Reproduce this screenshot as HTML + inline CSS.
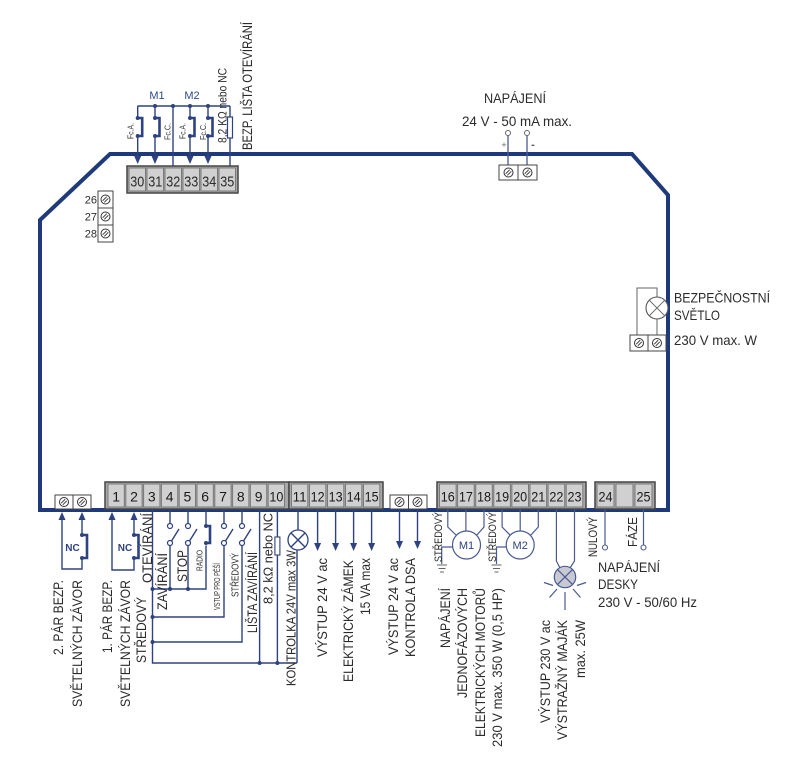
<!DOCTYPE html>
<html><head><meta charset="utf-8">
<style>
html,body{margin:0;padding:0;background:#fff;}
svg{display:block;}
text{font-family:"Liberation Sans",sans-serif;fill:#2b2b2b;}
.w{stroke:#2e4280;stroke-width:1.4;fill:none;}
.wl{stroke:#4a5a90;stroke-width:1.2;fill:none;}
.g{stroke:#666;stroke-width:1;fill:none;}
.dot{fill:#2e4280;}
.cell{fill:#d0d0d0;stroke:#7a7a7a;stroke-width:1;}
.blk{fill:#a8a8a8;stroke:#454545;stroke-width:1.5;}
.scr{fill:#fff;stroke:#444;stroke-width:1;}
.num{font-size:14px;fill:#1a1a1a;text-anchor:middle;}
.arr{fill:#2e4280;}
</style></head><body>
<svg width="800" height="774" viewBox="0 0 800 774" xmlns="http://www.w3.org/2000/svg">
<defs>
<g id="screw"><circle cx="0" cy="0" r="4.5" fill="#fff" stroke="#333" stroke-width="1"/><line x1="-2.8" y1="1.2" x2="1.2" y2="-2.8" stroke="#333" stroke-width="0.9"/><line x1="-1.2" y1="2.8" x2="2.8" y2="-1.2" stroke="#333" stroke-width="0.9"/></g>
</defs>

<!-- board outline -->
<path d="M110,154 L632,154 L668,195 L668,510 L40,510 L40,220 Z" fill="none" stroke="#1f3a7a" stroke-width="4"/>

<!-- ===== TOP LEFT: terminals 30-35 wiring ===== -->
<text x="157" y="99" font-size="11" text-anchor="middle" style="fill:#2e4a8a">M1</text>
<text x="192" y="99" font-size="11" text-anchor="middle" style="fill:#2e4a8a">M2</text>
<path class="w" d="M137.7,106 H230"/>
<circle class="dot" cx="155" cy="106" r="2"/>
<circle class="dot" cx="173" cy="106" r="2"/>
<circle class="dot" cx="190" cy="106" r="2"/>
<circle class="dot" cx="208" cy="106" r="2"/>
<g>
<path class="w" d="M137.7,106 V118 M137.7,136 V157"/>
<circle class="dot" cx="137.7" cy="118" r="2"/><circle class="dot" cx="137.7" cy="136" r="2"/>
<path d="M137.7,118 h4.5 v18 h-4.5" fill="none" stroke="#2e4280" stroke-width="2.6"/>
<polygon class="arr" points="134.2,156 141.2,156 137.7,164"/>
</g>
<g>
<path class="w" d="M155,106 V118 M155,136 V157"/>
<circle class="dot" cx="155" cy="118" r="2"/><circle class="dot" cx="155" cy="136" r="2"/>
<path d="M155,118 h4.5 v18 h-4.5" fill="none" stroke="#2e4280" stroke-width="2.6"/>
<polygon class="arr" points="151.5,156 158.5,156 155,164"/>
</g>
<path class="w" d="M173,106 V167"/>
<g>
<path class="w" d="M190,106 V118 M190,136 V157"/>
<circle class="dot" cx="190" cy="118" r="2"/><circle class="dot" cx="190" cy="136" r="2"/>
<path d="M190,118 h4.5 v18 h-4.5" fill="none" stroke="#2e4280" stroke-width="2.6"/>
<polygon class="arr" points="186.5,156 193.5,156 190,164"/>
</g>
<g>
<path class="w" d="M208,106 V118 M208,136 V157"/>
<circle class="dot" cx="208" cy="118" r="2"/><circle class="dot" cx="208" cy="136" r="2"/>
<path d="M208,118 h4.5 v18 h-4.5" fill="none" stroke="#2e4280" stroke-width="2.6"/>
<polygon class="arr" points="204.5,156 211.5,156 208,164"/>
</g>
<path class="w" d="M230,106 V117 M230,138 V167"/>
<rect x="227.5" y="117" width="5" height="21" fill="#fff" stroke="#2e4280" stroke-width="1.2"/>
<text transform="translate(133.5,139) rotate(-90)" font-size="8" textLength="16" lengthAdjust="spacingAndGlyphs">Fc.A.</text>
<text transform="translate(170.5,140) rotate(-90)" font-size="8" textLength="17" lengthAdjust="spacingAndGlyphs">Fc.C.</text>
<text transform="translate(185.5,139) rotate(-90)" font-size="8" textLength="16" lengthAdjust="spacingAndGlyphs">Fc.A.</text>
<text transform="translate(206,140) rotate(-90)" font-size="8" textLength="17" lengthAdjust="spacingAndGlyphs">Fc.C.</text>
<text transform="translate(226.5,143) rotate(-90)" font-size="12" textLength="75" lengthAdjust="spacingAndGlyphs">8,2 KΩ nebo NC</text>
<text transform="translate(252,150) rotate(-90)" font-size="14" textLength="128" lengthAdjust="spacingAndGlyphs">BEZP. LIŠTA OTEVÍRÁNÍ</text>

<!-- top block 30-35 -->
<rect class="blk" x="127" y="166" width="111" height="27"/>
<rect class="cell" x="129" y="168" width="16.5" height="23"/>
<rect class="cell" x="147" y="168" width="16.5" height="23"/>
<rect class="cell" x="165" y="168" width="16.5" height="23"/>
<rect class="cell" x="183" y="168" width="16.5" height="23"/>
<rect class="cell" x="201" y="168" width="16.5" height="23"/>
<rect class="cell" x="219" y="168" width="16.5" height="23"/>
<g font-size="15" text-anchor="middle" style="fill:#1a1a1a">
<text x="137.3" y="186.5" textLength="14" lengthAdjust="spacingAndGlyphs">30</text>
<text x="155.3" y="186.5" textLength="14" lengthAdjust="spacingAndGlyphs">31</text>
<text x="173.3" y="186.5" textLength="14" lengthAdjust="spacingAndGlyphs">32</text>
<text x="191.3" y="186.5" textLength="14" lengthAdjust="spacingAndGlyphs">33</text>
<text x="209.3" y="186.5" textLength="14" lengthAdjust="spacingAndGlyphs">34</text>
<text x="227.3" y="186.5" textLength="14" lengthAdjust="spacingAndGlyphs">35</text>
</g>

<!-- left terminals 26-28 -->
<rect class="scr" x="98" y="191" width="15" height="17"/>
<rect class="scr" x="98" y="208" width="15" height="17"/>
<rect class="scr" x="98" y="225" width="15" height="17"/>
<use href="#screw" x="105.5" y="199.5"/>
<use href="#screw" x="105.5" y="216.5"/>
<use href="#screw" x="105.5" y="233.5"/>
<g font-size="11" text-anchor="end">
<text x="97" y="203.5">26</text>
<text x="97" y="220.5">27</text>
<text x="97" y="237.5">28</text>
</g>

<!-- ===== TOP POWER ===== -->
<text x="484" y="103" font-size="14" textLength="62" lengthAdjust="spacingAndGlyphs">NAPÁJENÍ</text>
<text x="462" y="126" font-size="14" textLength="110" lengthAdjust="spacingAndGlyphs">24 V - 50 mA max.</text>
<path d="M508,135.5 V172 M527,135.5 V172" stroke="#4a5a90" stroke-width="1.3" fill="none"/>
<circle cx="508" cy="133" r="2.5" fill="#fff" stroke="#666" stroke-width="1"/>
<circle cx="527" cy="133" r="2.5" fill="#fff" stroke="#666" stroke-width="1"/>
<text x="504" y="148" font-size="9" text-anchor="middle" style="fill:#666">+</text>
<text x="533" y="148" font-size="11" font-weight="bold" text-anchor="middle" style="fill:#555">-</text>
<rect class="scr" x="499" y="165" width="19" height="15"/>
<rect class="scr" x="518" y="165" width="19" height="15"/>
<use href="#screw" x="508.5" y="172.5"/>
<use href="#screw" x="527.5" y="172.5"/>

<!-- ===== RIGHT SAFETY LIGHT ===== -->
<path class="g" d="M637,335 V288 H657 V297 M657,319 V335"/>
<circle cx="657" cy="308" r="11" fill="#fff" stroke="#555" stroke-width="1.1"/>
<path class="g" d="M649.2,300.2 L664.8,315.8 M664.8,300.2 L649.2,315.8"/>
<rect class="scr" x="630" y="335" width="18" height="16"/>
<rect class="scr" x="648" y="335" width="18" height="16"/>
<use href="#screw" x="639" y="343"/>
<use href="#screw" x="657" y="343"/>
<text x="674" y="302.7" font-size="14" textLength="96" lengthAdjust="spacingAndGlyphs">BEZPEČNOSTNÍ</text>
<text x="674" y="320" font-size="14" textLength="46" lengthAdjust="spacingAndGlyphs">SVĚTLO</text>
<text x="674" y="345" font-size="14" textLength="83" lengthAdjust="spacingAndGlyphs">230 V max. W</text>

<!-- ===== BOTTOM LEFT NC boxes ===== -->
<path class="w" d="M62,519 V569 H82 V558 M82,519 V535"/>
<circle class="dot" cx="82" cy="535" r="2"/><circle class="dot" cx="82" cy="558" r="2"/>
<path d="M82,535 h5 v23 h-5" fill="none" stroke="#2e4280" stroke-width="2.6"/>
<polygon class="arr" points="58.5,520 65.5,520 62,512"/>
<polygon class="arr" points="78.5,520 85.5,520 82,512"/>
<text x="72.5" y="551" font-size="10" font-weight="bold" text-anchor="middle" style="fill:#2e4280">NC</text>

<path class="w" d="M112,519 V570 H134 V558 M134,519 V535"/>
<circle class="dot" cx="134" cy="535" r="2"/><circle class="dot" cx="134" cy="558" r="2"/>
<path d="M134,535 h4.5 v23 h-4.5" fill="none" stroke="#2e4280" stroke-width="2.6"/>
<polygon class="arr" points="108.5,520 115.5,520 112,512"/>
<polygon class="arr" points="130.5,520 137.5,520 134,512"/>
<text x="125" y="551" font-size="10" font-weight="bold" text-anchor="middle" style="fill:#2e4280">NC</text>

<!-- ===== terminals 3-10 wiring ===== -->
<path class="w" d="M152.5,509 V663 H297"/>
<path class="w" d="M152.5,589 H206 V545.5"/>
<circle class="dot" cx="152.5" cy="589" r="2"/>
<circle class="dot" cx="170" cy="589" r="2"/>
<circle class="dot" cx="188" cy="589" r="2"/>
<path class="w" d="M170,509 V523.5 M170,545.5 V589 M171.5,541 L179,529"/>
<circle cx="170" cy="526" r="2.5" fill="#fff" stroke="#2e4280" stroke-width="1.2"/>
<circle cx="170" cy="543" r="2.5" fill="#fff" stroke="#2e4280" stroke-width="1.2"/>
<path class="w" d="M188,509 V523.5 M188,545.5 V589 M189.5,541 L197,529"/>
<circle cx="188" cy="526" r="2.5" fill="#fff" stroke="#2e4280" stroke-width="1.2"/>
<circle cx="188" cy="543" r="2.5" fill="#fff" stroke="#2e4280" stroke-width="1.2"/>
<path class="w" d="M206,509 V526"/>
<circle class="dot" cx="206" cy="526" r="2"/><circle class="dot" cx="206" cy="543" r="2"/>
<path d="M206,526 h4 v17 h-4" fill="none" stroke="#2e4280" stroke-width="2.6"/>
<path class="w" d="M224,509 V523.5 M224,545.5 V617 H152.5 M225.5,541 L233,529"/>
<circle cx="224" cy="526" r="2.5" fill="#fff" stroke="#2e4280" stroke-width="1.2"/>
<circle cx="224" cy="543" r="2.5" fill="#fff" stroke="#2e4280" stroke-width="1.2"/>
<circle class="dot" cx="152.5" cy="617" r="2"/>
<path class="w" d="M242,509 V523.5 M242,545.5 V642 H152.5 M243.5,541 L251,529"/>
<circle cx="242" cy="526" r="2.5" fill="#fff" stroke="#2e4280" stroke-width="1.2"/>
<circle cx="242" cy="543" r="2.5" fill="#fff" stroke="#2e4280" stroke-width="1.2"/>
<circle class="dot" cx="152.5" cy="642" r="2"/>
<path class="w" d="M259.6,509 V663"/>
<circle class="dot" cx="259.6" cy="663" r="2"/>
<path class="w" d="M277.4,509 V537 M277.4,555 V663"/>
<rect x="274.9" y="537" width="5" height="18" fill="#fff" stroke="#2e4280" stroke-width="1.1"/>
<circle class="dot" cx="277.4" cy="663" r="2"/>
<path class="w" d="M298,509 V530 M297,550 V663"/>
<circle cx="298" cy="540" r="10" fill="#fff" stroke="#2e4280" stroke-width="1.3"/>
<path class="w" d="M290.9,532.9 L305.1,547.1 M305.1,532.9 L290.9,547.1"/>
<path class="w" d="M317.6,509 V543 M335.6,509 V543 M353.6,509 V543 M371.6,509 V543"/>
<polygon class="arr" points="314.1,543 321.1,543 317.6,551"/>
<polygon class="arr" points="332.1,543 339.1,543 335.6,551"/>
<polygon class="arr" points="350.1,543 357.1,543 353.6,551"/>
<polygon class="arr" points="368.1,543 375.1,543 371.6,551"/>
<path class="w" d="M399.5,509 V541 M417.5,509 V541"/>
<polygon class="arr" points="396,541 403,541 399.5,549"/>
<polygon class="arr" points="414,541 421,541 417.5,549"/>

<!-- motors -->
<path class="wl" d="M447.8,509 V527 L457,536 M465.9,509 V531 M484,509 V527 L476,536"/>
<circle cx="466.5" cy="545" r="14" fill="#fff" stroke="#4a5a90" stroke-width="1.2"/>
<text x="466.5" y="549" font-size="11" text-anchor="middle" style="fill:#2e4280">M1</text>
<path class="wl" d="M452.5,547 H441.7 V564"/>
<path class="g" d="M437,565 H447 M438.5,568.5 H445.5 M440,572 H444" stroke="#999"/>
<path class="wl" d="M502.1,509 V527 L511,536 M520.2,509 V531 M538.3,509 V527 L530,536"/>
<circle cx="520.2" cy="545" r="14" fill="#fff" stroke="#4a5a90" stroke-width="1.2"/>
<text x="520.2" y="549" font-size="11" text-anchor="middle" style="fill:#2e4280">M2</text>
<path class="wl" d="M506.2,547 H496.5 V564"/>
<path class="g" d="M491.5,565 H501.5 M493,568.5 H500 M494.5,572 H498.5" stroke="#999"/>
<path class="wl" d="M556.4,509 V561 L560,568 M574.5,509 V561 L570,568"/>
<circle cx="565" cy="577" r="10.7" fill="#c9c9d3" stroke="#4a5a90" stroke-width="1.2"/>
<path class="wl" d="M557.4,569.4 L572.6,584.6 M572.6,569.4 L557.4,584.6"/>
<path class="wl" d="M544,582.5 L553,585.5 M549.5,597.5 L557,589 M565,592 V610 M573,589 L580.5,597.5 M577,585.5 L586,582.5"/>
<path class="wl" d="M605,509 V545 M643.5,509 V545"/>
<circle cx="605" cy="547.5" r="2.5" fill="#fff" stroke="#4a5a90" stroke-width="1.1"/>
<circle cx="643.5" cy="547.5" r="2.5" fill="#fff" stroke="#4a5a90" stroke-width="1.1"/>

<!-- bottom blocks -->
<rect class="scr" x="55" y="495" width="18" height="14"/>
<rect class="scr" x="73" y="495" width="18" height="14"/>
<use href="#screw" x="64" y="502"/>
<use href="#screw" x="82" y="502"/>

<rect class="blk" x="105" y="482" width="184" height="27"/>
<rect class="cell" x="108" y="484" width="16.3" height="23"/>
<rect class="cell" x="125.8" y="484" width="16.3" height="23"/>
<rect class="cell" x="143.6" y="484" width="16.3" height="23"/>
<rect class="cell" x="161.4" y="484" width="16.3" height="23"/>
<rect class="cell" x="179.2" y="484" width="16.3" height="23"/>
<rect class="cell" x="197" y="484" width="16.3" height="23"/>
<rect class="cell" x="214.8" y="484" width="16.3" height="23"/>
<rect class="cell" x="232.6" y="484" width="16.3" height="23"/>
<rect class="cell" x="250.4" y="484" width="16.3" height="23"/>
<rect class="cell" x="268.2" y="484" width="16.3" height="23"/>
<text class="num" x="116.2" y="501.5">1</text>
<text class="num" x="134" y="501.5">2</text>
<text class="num" x="151.8" y="501.5">3</text>
<text class="num" x="169.6" y="501.5">4</text>
<text class="num" x="187.4" y="501.5">5</text>
<text class="num" x="205.2" y="501.5">6</text>
<text class="num" x="223" y="501.5">7</text>
<text class="num" x="240.8" y="501.5">8</text>
<text class="num" x="258.6" y="501.5">9</text>
<text class="num" x="276.4" y="501.5" textLength="14" lengthAdjust="spacingAndGlyphs">10</text>

<rect class="blk" x="289" y="482" width="94" height="27"/>
<rect class="cell" x="291.5" y="484" width="16.3" height="23"/>
<rect class="cell" x="309.5" y="484" width="16.3" height="23"/>
<rect class="cell" x="327.5" y="484" width="16.3" height="23"/>
<rect class="cell" x="345.5" y="484" width="16.3" height="23"/>
<rect class="cell" x="363.5" y="484" width="16.3" height="23"/>
<text class="num" x="299.6" y="501.5" textLength="14" lengthAdjust="spacingAndGlyphs">11</text>
<text class="num" x="317.6" y="501.5" textLength="14" lengthAdjust="spacingAndGlyphs">12</text>
<text class="num" x="335.6" y="501.5" textLength="14" lengthAdjust="spacingAndGlyphs">13</text>
<text class="num" x="353.6" y="501.5" textLength="14" lengthAdjust="spacingAndGlyphs">14</text>
<text class="num" x="371.6" y="501.5" textLength="14" lengthAdjust="spacingAndGlyphs">15</text>

<rect class="scr" x="390" y="495" width="18.5" height="14"/>
<rect class="scr" x="408.5" y="495" width="18.5" height="14"/>
<use href="#screw" x="399.5" y="502"/>
<use href="#screw" x="417.5" y="502"/>

<rect class="blk" x="437" y="482" width="149" height="27"/>
<rect class="cell" x="439.5" y="484" width="16.6" height="23"/>
<rect class="cell" x="457.6" y="484" width="16.6" height="23"/>
<rect class="cell" x="475.7" y="484" width="16.6" height="23"/>
<rect class="cell" x="493.8" y="484" width="16.6" height="23"/>
<rect class="cell" x="511.9" y="484" width="16.6" height="23"/>
<rect class="cell" x="530" y="484" width="16.6" height="23"/>
<rect class="cell" x="548.1" y="484" width="16.6" height="23"/>
<rect class="cell" x="566.2" y="484" width="16.6" height="23"/>
<text class="num" x="447.8" y="501.5" textLength="14" lengthAdjust="spacingAndGlyphs">16</text>
<text class="num" x="465.9" y="501.5" textLength="14" lengthAdjust="spacingAndGlyphs">17</text>
<text class="num" x="484" y="501.5" textLength="14" lengthAdjust="spacingAndGlyphs">18</text>
<text class="num" x="502.1" y="501.5" textLength="14" lengthAdjust="spacingAndGlyphs">19</text>
<text class="num" x="520.2" y="501.5" textLength="14" lengthAdjust="spacingAndGlyphs">20</text>
<text class="num" x="538.3" y="501.5" textLength="14" lengthAdjust="spacingAndGlyphs">21</text>
<text class="num" x="556.4" y="501.5" textLength="14" lengthAdjust="spacingAndGlyphs">22</text>
<text class="num" x="574.5" y="501.5" textLength="14" lengthAdjust="spacingAndGlyphs">23</text>

<rect class="blk" x="595" y="482" width="60" height="27"/>
<rect class="cell" x="597" y="484" width="17" height="23"/>
<rect class="cell" x="616" y="484" width="17" height="23"/>
<rect class="cell" x="635" y="484" width="17" height="23"/>
<text class="num" x="605.5" y="501.5" textLength="14" lengthAdjust="spacingAndGlyphs">24</text>
<text class="num" x="643.5" y="501.5" textLength="14" lengthAdjust="spacingAndGlyphs">25</text>

<!-- ===== bottom rotated labels ===== -->
<g font-size="14">
<text transform="translate(63,655) rotate(-90)" textLength="75" lengthAdjust="spacingAndGlyphs">2. PÁR BEZP.</text>
<text transform="translate(82,707) rotate(-90)" textLength="127" lengthAdjust="spacingAndGlyphs">SVĚTELNÝCH ZÁVOR</text>
<text transform="translate(112,653) rotate(-90)" textLength="73" lengthAdjust="spacingAndGlyphs">1. PÁR BEZP.</text>
<text transform="translate(130,707) rotate(-90)" textLength="127" lengthAdjust="spacingAndGlyphs">SVĚTELNÝCH ZÁVOR</text>
<text transform="translate(146,663) rotate(-90)" textLength="66" lengthAdjust="spacingAndGlyphs">STŘEDOVÝ</text>
<text transform="translate(152,583) rotate(-90)" textLength="70" lengthAdjust="spacingAndGlyphs">OTEVÍRÁNÍ</text>
<text transform="translate(167,610) rotate(-90)" textLength="57" lengthAdjust="spacingAndGlyphs">ZAVÍRÁNÍ</text>
<text transform="translate(187,582) rotate(-90)" textLength="32" lengthAdjust="spacingAndGlyphs">STOP</text>
<text transform="translate(202.5,571) rotate(-90)" font-size="8" textLength="21" lengthAdjust="spacingAndGlyphs">RADIO</text>
<text transform="translate(220,610) rotate(-90)" font-size="8" textLength="47" lengthAdjust="spacingAndGlyphs">VSTUP PRO PĚŠÍ</text>
<text transform="translate(238.5,597) rotate(-90)" font-size="10" textLength="44" lengthAdjust="spacingAndGlyphs">STŘEDOVÝ</text>
<text transform="translate(257,633) rotate(-90)" textLength="81" lengthAdjust="spacingAndGlyphs">LIŠTA ZAVÍRÁNÍ</text>
<text transform="translate(272.5,604) rotate(-90)" font-size="13" textLength="91" lengthAdjust="spacingAndGlyphs">8,2 kΩ nebo NC</text>
<text transform="translate(295.5,686) rotate(-90)" font-size="13" textLength="136" lengthAdjust="spacingAndGlyphs">KONTROLKA 24V max 3W</text>
<text transform="translate(327,657) rotate(-90)" textLength="99" lengthAdjust="spacingAndGlyphs">VÝSTUP 24 V ac</text>
<text transform="translate(353,682) rotate(-90)" textLength="122" lengthAdjust="spacingAndGlyphs">ELEKTRICKÝ ZÁMEK</text>
<text transform="translate(370,615) rotate(-90)" textLength="57" lengthAdjust="spacingAndGlyphs">15 VA max</text>
<text transform="translate(398,655) rotate(-90)" textLength="97" lengthAdjust="spacingAndGlyphs">VÝSTUP 24 V ac</text>
<text transform="translate(415,657) rotate(-90)" textLength="99" lengthAdjust="spacingAndGlyphs">KONTROLA DSA</text>
<text transform="translate(442,562) rotate(-90)" font-size="11" textLength="50" lengthAdjust="spacingAndGlyphs">STŘEDOVÝ</text>
<text transform="translate(496,562) rotate(-90)" font-size="11" textLength="50" lengthAdjust="spacingAndGlyphs">STŘEDOVÝ</text>
<text transform="translate(450,648) rotate(-90)" textLength="60" lengthAdjust="spacingAndGlyphs">NAPÁJENÍ</text>
<text transform="translate(467,698) rotate(-90)" textLength="110" lengthAdjust="spacingAndGlyphs">JEDNOFÁZOVÝCH</text>
<text transform="translate(485,737) rotate(-90)" textLength="149" lengthAdjust="spacingAndGlyphs">ELEKTRICKÝCH MOTORŮ</text>
<text transform="translate(502,747) rotate(-90)" textLength="159" lengthAdjust="spacingAndGlyphs">230 V max. 350 W (0,5 HP)</text>
<text transform="translate(550,723) rotate(-90)" textLength="103" lengthAdjust="spacingAndGlyphs">VÝSTUP 230 V ac</text>
<text transform="translate(567,740) rotate(-90)" textLength="120" lengthAdjust="spacingAndGlyphs">VÝSTRAŽNÝ MAJÁK</text>
<text transform="translate(585,678) rotate(-90)" textLength="58" lengthAdjust="spacingAndGlyphs">max. 25W</text>
<text transform="translate(597,557) rotate(-90)" font-size="12" textLength="40" lengthAdjust="spacingAndGlyphs">NULOVÝ</text>
<text transform="translate(637,547) rotate(-90)" font-size="13" textLength="30" lengthAdjust="spacingAndGlyphs">FÁZE</text>
</g>

<text x="598" y="572" font-size="14" textLength="62" lengthAdjust="spacingAndGlyphs">NAPÁJENÍ</text>
<text x="598" y="589" font-size="14" textLength="40" lengthAdjust="spacingAndGlyphs">DESKY</text>
<text x="598" y="607" font-size="14" textLength="99" lengthAdjust="spacingAndGlyphs">230 V - 50/60 Hz</text>
</svg>
</body></html>
